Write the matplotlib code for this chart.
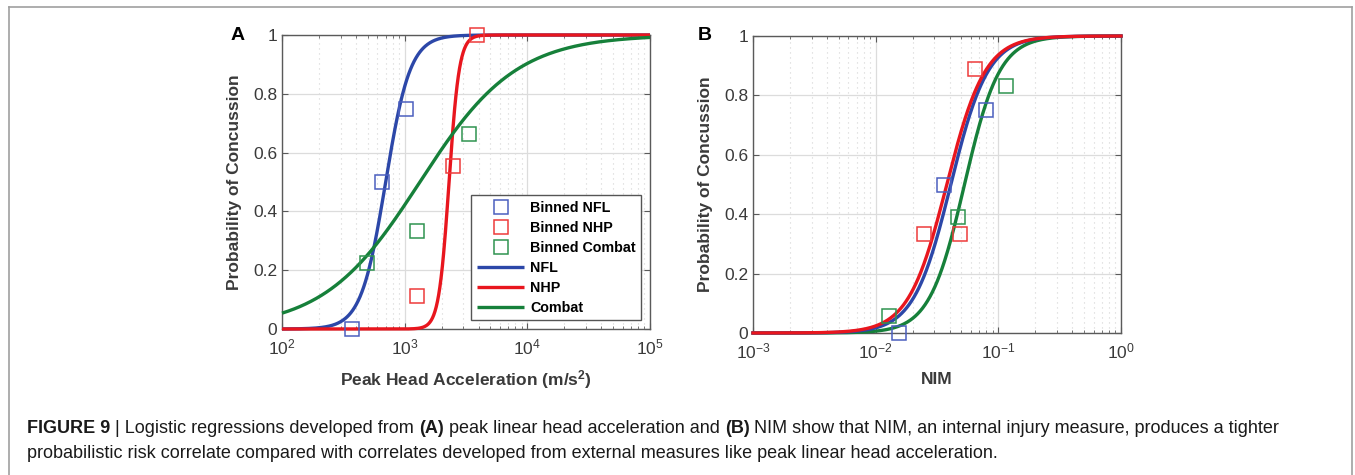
import numpy as np
import matplotlib
matplotlib.use("Agg")
import matplotlib.pyplot as plt
from matplotlib.lines import Line2D
from matplotlib.text import Annotation

plt.rcParams['font.family'] = ['Liberation Sans', 'DejaVu Sans']
plt.rcParams['mathtext.fontset'] = 'custom'
plt.rcParams['mathtext.rm'] = 'Liberation Sans'
plt.rcParams['mathtext.bf'] = 'Liberation Sans:bold'
plt.rcParams['mathtext.default'] = 'regular'
plt.rcParams['axes.unicode_minus'] = False

# ---------------- data ----------------
series = ["NFL", "NHP", "Combat"]
line_colors = ["#2c47a8", "#e8161e", "#16803a"]
marker_colors = ["#4b5fbf", "#ee3b3b", "#2f9350"]

# Panel A: logistic fits, midpoint (m/s^2) and slope (log-odds per decade)
a_mid = [700.0, 2300.0, 1330.0]
a_slope = [10.0, 24.0, 2.55]
# binned points
a_nfl_x = [372, 655, 1033]
a_nfl_y = [0.0, 0.5, 0.75]
a_nhp_x = [1263, 2485, 3900]
a_nhp_y = [0.113, 0.555, 1.0]
a_cmb_x = [494, 1263, 3356]
a_cmb_y = [0.224, 0.334, 0.664]

# Panel B: logistic fits on NIM
b_mid = [0.0410, 0.0380, 0.0530]
b_slope = [6.6, 6.4, 7.0]
b_nfl_x = [0.0154, 0.0359, 0.0787]
b_nfl_y = [0.0, 0.5, 0.75]
b_nhp_x = [0.0248, 0.0485, 0.0647]
b_nhp_y = [0.333, 0.333, 0.889]
b_cmb_x = [0.0129, 0.0468, 0.1145]
b_cmb_y = [0.056, 0.389, 0.833]

W, H = 1355, 475
fig = plt.figure(figsize=(W / 100, H / 100), dpi=100)

def fr(x0, y0, x1, y1):
    return [x0 / W, 1 - y1 / H, (x1 - x0) / W, (y1 - y0) / H]

axA = fig.add_axes(fr(282, 35, 650, 329))
axB = fig.add_axes(fr(753, 36, 1121, 333))

spine_col = "#5a5a5a"
lab_col = "#3a3a3a"

def logistic(x, mid, slope):
    return 1.0 / (1.0 + np.exp(-slope * (np.log10(x) - np.log10(mid))))

def style(ax, xlim):
    ax.set_xscale('log')
    ax.set_xlim(*xlim)
    ax.set_ylim(0, 1)
    ax.set_yticks([0, 0.2, 0.4, 0.6, 0.8, 1])
    ax.set_yticklabels(["0", "0.2", "0.4", "0.6", "0.8", "1"])
    ax.grid(True, which='major', color='#dcdcdc', lw=0.9, ls='-')
    ax.grid(True, which='minor', axis='x', color='#d4d4d4', lw=0.8, ls=(0, (1, 3.5)))
    ax.set_axisbelow(True)
    for s in ax.spines.values():
        s.set_color(spine_col)
        s.set_linewidth(1.0)
    ax.tick_params(which='both', direction='in', top=True, right=True,
                   colors=spine_col, labelcolor=lab_col, labelsize=12.5)
    ax.tick_params(which='major', length=4)
    ax.tick_params(which='minor', length=2.5)
    ax.tick_params(axis='x', pad=6)
    ax.set_ylabel("Probability of Concussion", fontsize=12.5, fontweight='bold',
                  color=lab_col, labelpad=8)

msz = 9.5
# ---- Panel A ----
xa = np.logspace(2, 5, 600)
style(axA, (1e2, 1e5))
pts_a = [(a_nfl_x, a_nfl_y), (a_nhp_x, a_nhp_y), (a_cmb_x, a_cmb_y)]
for i, (px, py) in enumerate(pts_a):
    axA.plot(px, py, ls='none', marker='s', ms=msz, mfc='none',
             mec=marker_colors[i], mew=1.1, label="Binned " + series[i], zorder=4)
for i in range(3):
    axA.plot(xa, logistic(xa, a_mid[i], a_slope[i]), color=line_colors[i],
             lw=2.4, label=series[i], zorder=3, solid_capstyle='butt')
axA.set_xlabel(r"Peak Head Acceleration (m/s$^{\mathbf{2}}$)", fontsize=12.5,
               fontweight='bold', color=lab_col, labelpad=8)
leg = axA.legend(loc='lower right', bbox_to_anchor=(1.0, 0.0),
                 prop={'weight': 'bold', 'size': 10.3}, frameon=True, fancybox=False,
                 edgecolor='#555555', framealpha=1, borderaxespad=0.6,
                 handlelength=3.3, handletextpad=0.4, labelspacing=0.42,
                 borderpad=0.4)
leg.get_frame().set_linewidth(1.0)

# ---- Panel B ----
xb = np.logspace(-3, 0, 600)
style(axB, (1e-3, 1e0))
pts_b = [(b_nfl_x, b_nfl_y), (b_nhp_x, b_nhp_y), (b_cmb_x, b_cmb_y)]
for i in [2, 0, 1]:
    axB.plot(xb, logistic(xb, b_mid[i], b_slope[i]), color=line_colors[i],
             lw=2.4, zorder=3)
for i, (px, py) in enumerate(pts_b):
    axB.plot(px, py, ls='none', marker='s', ms=msz, mfc='none',
             mec=marker_colors[i], mew=1.1, zorder=4)
axB.set_xlabel("NIM", fontsize=12.5, fontweight='bold', color=lab_col, labelpad=8)

for ax in (axA, axB):
    for ln in ax.lines:
        ln.set_clip_on(False)

# panel letters
fig.text(238 / W, 1 - 35 / H, "A", fontsize=14, fontweight='bold', ha='center', va='center')
fig.text(705 / W, 1 - 35 / H, "B", fontsize=14, fontweight='bold', ha='center', va='center')

# outer frame (open at bottom)
frame_col = "#a0a0a0"
for xs, ys in [([9, 9], [H, 7]), ([9, 1352], [7, 7]), ([1352, 1352], [7, H])]:
    fig.add_artist(Line2D([x / W for x in xs], [1 - y / H for y in ys],
                          color=frame_col, lw=1.2, transform=fig.transFigure))

# caption with mixed bold
cap_size = 13.0
line1 = [("FIGURE 9", 'bold'), (" | Logistic regressions developed from ", 'normal'),
         ("(A)", 'bold'), (" peak linear head acceleration and ", 'normal'),
         ("(B)", 'bold'),
         (" NIM show that NIM, an internal injury measure, produces a tighter", 'normal')]
line2 = [("probabilistic risk correlate compared with correlates developed from external "
          "measures like peak linear head acceleration.", 'normal')]

def chain(parts, x, y):
    t = fig.text(x, y, parts[0][0], fontsize=cap_size, fontweight=parts[0][1],
                 ha='left', va='baseline', color='#1a1a1a')
    for txt, w in parts[1:]:
        t = fig.add_artist(Annotation(
            txt, xy=(1, 0), xycoords=t, fontsize=cap_size, fontweight=w,
            ha='left', va='bottom', color='#1a1a1a'))
    return t

chain(line1, 27 / W, 1 - 433 / H)
chain(line2, 27 / W, 1 - 458 / H)

fig.savefig("out.png", dpi=100)
